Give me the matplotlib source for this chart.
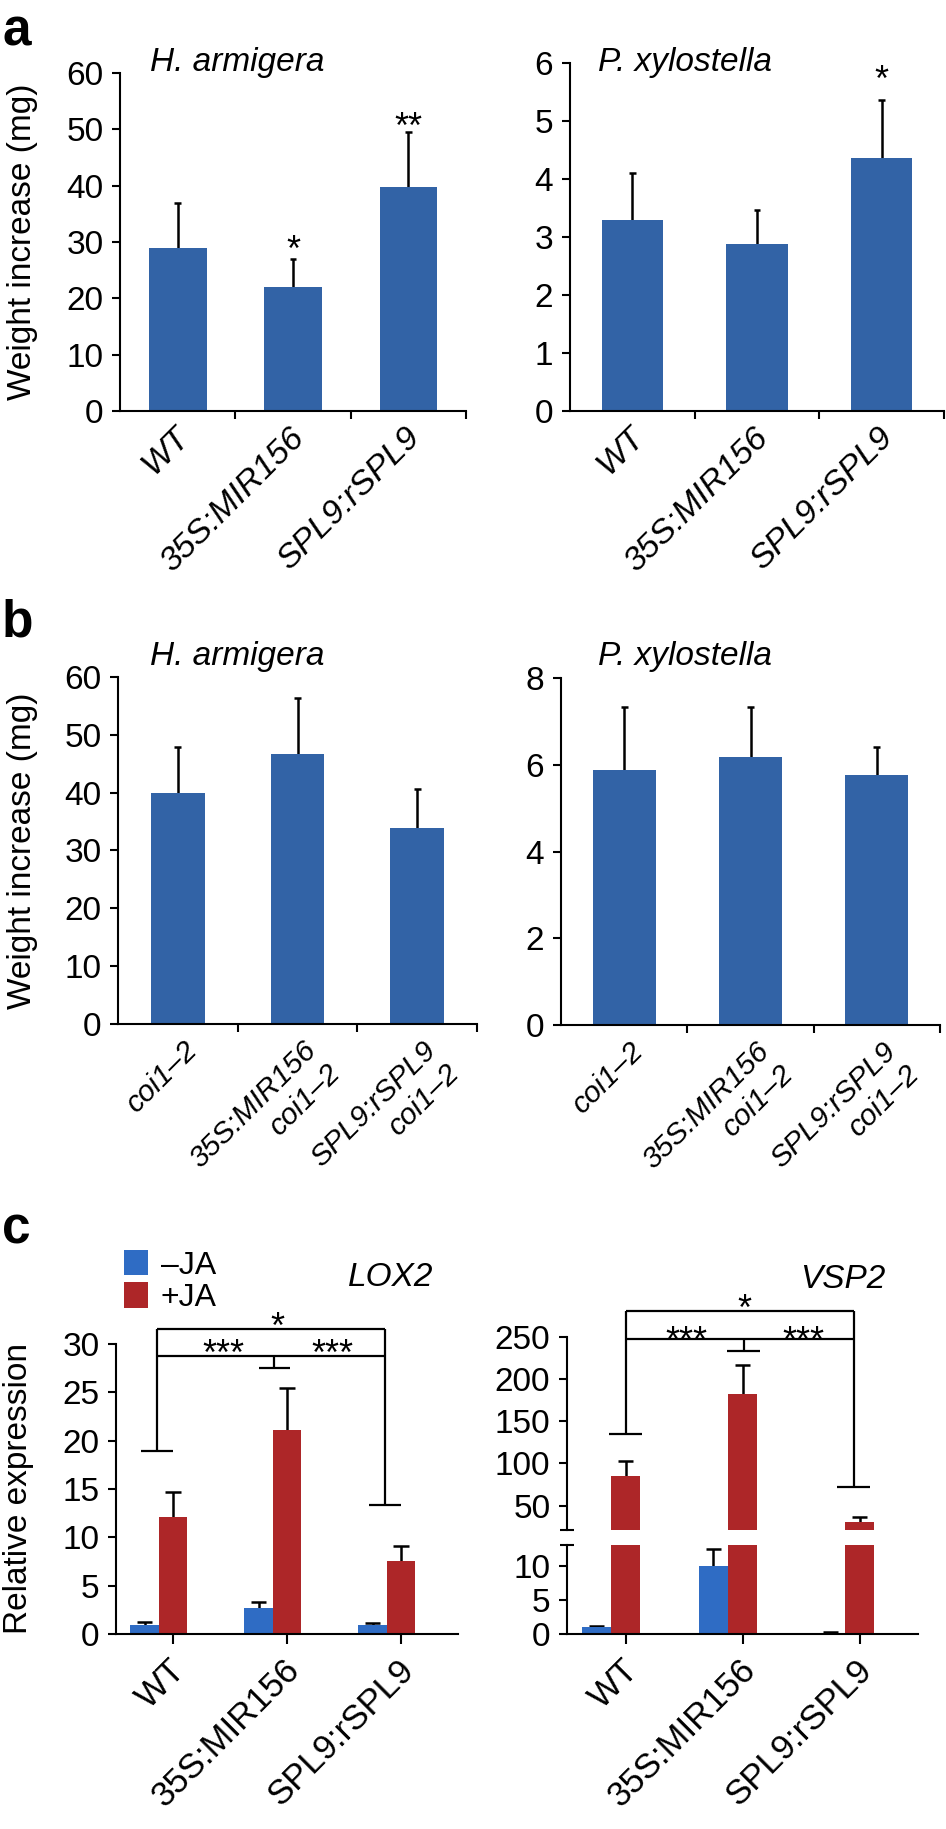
import matplotlib
matplotlib.use('Agg')
import matplotlib.pyplot as plt
import matplotlib.transforms as mtrans
import numpy as np

plt.rcParams['font.family'] = ['Liberation Sans', 'DejaVu Sans']
plt.rcParams['axes.linewidth'] = 1.5

# ---------------- data ----------------
cats = ['WT', '35S:MIR156', 'SPL9:rSPL9']
cats_coi = ['coi1–2', '35S:MIR156\ncoi1–2', 'SPL9:rSPL9\ncoi1–2']

ha_a_mean = [28.9, 22.0, 39.8]
ha_a_err = [8.1, 4.9, 9.7]
ha_a_sig = ['', '*', '**']
px_a_mean = [3.29, 2.88, 4.37]
px_a_err = [0.81, 0.59, 1.00]
px_a_sig = ['', '', '*']

ha_b_mean = [40.0, 46.7, 33.9]
ha_b_err = [7.9, 9.7, 6.7]
px_b_mean = [5.89, 6.18, 5.77]
px_b_err = [1.44, 1.15, 0.64]

lox2_minus = [0.97, 2.66, 0.93]
lox2_minus_err = [0.24, 0.62, 0.21]
lox2_plus = [12.07, 21.1, 7.52]
lox2_plus_err = [2.59, 4.35, 1.58]

vsp2_minus = [0.98, 10.0, 0.15]
vsp2_minus_err = [0.25, 2.45, 0.12]
vsp2_plus = [85.2, 182.3, 30.6]
vsp2_plus_err = [17.1, 34.8, 6.3]

BLUE_AB = '#3263a6'
BLUE_C = '#2f6cc4'
RED_C = '#ad2628'

W, H = 946, 1829
fig = plt.figure(figsize=(W / 100, H / 100), dpi=100)


def axpx(left, right, top, bottom):
    return fig.add_axes([left / W, 1 - bottom / H, (right - left) / W, (bottom - top) / H])


def fx(x):
    return x / W


def fy(y):
    return 1 - y / H


def style(ax):
    for s in ['top', 'right']:
        ax.spines[s].set_visible(False)
    ax.tick_params(axis='y', direction='out', length=6, width=1.5, labelsize=24, pad=6)
    ax.tick_params(axis='x', direction='out', length=6, width=1.5)


def err_up(ax, x, vals, errs, capw, lw=1.8, **kw):
    x = np.asarray(x, float)
    top = np.asarray(vals) + np.asarray(errs)
    ax.vlines(x, vals, top, colors='black', linewidth=lw, zorder=1, **kw)
    ax.hlines(top, x - capw, x + capw, colors='black', linewidth=lw, zorder=1, **kw)


def cat_axis(ax, labels, dx_px, pad, size, italic=True):
    n = len(labels)
    ax.set_xlim(-0.5, n - 0.5)
    ax.set_xticks(np.arange(n) + 0.5)
    ax.set_xticklabels([])
    ax.set_xticks(np.arange(n), labels, minor=True)
    ax.tick_params(axis='x', which='minor', length=0, pad=pad)
    off = mtrans.ScaledTranslation(dx_px / 100, 0, fig.dpi_scale_trans)
    for lab in ax.get_xticklabels(minor=True):
        lab.set_rotation(45)
        lab.set_ha('right')
        lab.set_va('top')
        lab.set_rotation_mode('anchor')
        lab.set_fontsize(size)
        if italic:
            lab.set_fontstyle('italic')
        lab.set_transform(lab.get_transform() + off)


def ylabel_at(ax, text, xpix, left, right):
    ax.set_ylabel(text, fontsize=24)
    ax.yaxis.set_label_coords((xpix - left) / (right - left), 0.5)


def simple_panel(box, means, errs, ylim, yticks, labels, dx, pad, size, capw,
                 sig=None, sig_y=None, bw=0.5):
    ax = axpx(*box)
    style(ax)
    x = np.arange(len(means))
    ax.bar(x, means, width=bw, color=BLUE_AB, zorder=2)
    err_up(ax, x, means, errs, capw)
    ax.set_ylim(*ylim)
    ax.set_yticks(yticks)
    cat_axis(ax, labels, dx, pad, size)
    if sig is not None:
        for xi, s, yy in zip(x, sig, sig_y):
            if s:
                ax.text(xi, yy, s, ha='center', va='baseline', fontsize=26)
    return ax


# ---------------- panel a ----------------
ax1 = simple_panel((120, 466, 73, 411), ha_a_mean, ha_a_err, (0, 60), range(0, 61, 10),
                   cats, -4, 8, 24.5, 0.03, ha_a_sig, [0, 26.6, 48.5])
ylabel_at(ax1, 'Weight increase (mg)', 38, 120, 466)
ax2 = simple_panel((570, 944, 63, 411), px_a_mean, px_a_err, (0, 6), range(0, 7),
                   cats, -4, 8, 24.5, 0.028, px_a_sig, [0, 0, 5.52], bw=0.49)

# ---------------- panel b ----------------
ax3 = simple_panel((118, 477, 677, 1024), ha_b_mean, ha_b_err, (0, 60), range(0, 61, 10),
                   cats_coi, 5, 9, 21.5, 0.03, bw=0.45)
ylabel_at(ax3, 'Weight increase (mg)', 38, 118, 477)
ax4 = simple_panel((561, 940, 678, 1025), px_b_mean, px_b_err, (0, 8), range(0, 9, 2),
                   cats_coi, 5, 9, 21.5, 0.028)

# titles
for (xp, yp, t) in [(150, 63, 'H. armigera'), (598, 63, 'P. xylostella'),
                    (150, 657, 'H. armigera'), (598, 657, 'P. xylostella')]:
    fig.text(fx(xp), fy(yp), t, fontsize=24, style='italic', ha='left', va='center')

# panel letters
for (yp, t) in [(45, 'a'), (637, 'b'), (1244, 'c')]:
    fig.text(fx(2), fy(yp), t, fontsize=37, fontweight='bold', ha='left', va='baseline')


def c_xaxis(ax, labels):
    n = len(labels)
    ax.set_xlim(-0.5, n - 0.5)
    ax.set_xticks(np.arange(n), labels)
    ax.tick_params(axis='x', length=7, width=1.5, pad=7)
    off = mtrans.ScaledTranslation(-4 / 100, 0, fig.dpi_scale_trans)
    for lab in ax.get_xticklabels():
        lab.set_rotation(45)
        lab.set_ha('right')
        lab.set_va('top')
        lab.set_rotation_mode('anchor')
        lab.set_fontsize(25)
        lab.set_transform(lab.get_transform() + off)


def bracket(ax, xl, yl, xr, yr, xm, ym, ytop, ymid, capw, lw=1.6):
    kw = dict(color='black', linewidth=lw, clip_on=False, zorder=3, solid_capstyle='butt')
    ax.plot([xl, xl], [yl, ytop], **kw)
    ax.plot([xr, xr], [yr, ytop], **kw)
    ax.plot([xl, xr], [ytop, ytop], **kw)
    ax.plot([xl, xr], [ymid, ymid], **kw)
    ax.plot([xm, xm], [ym, ymid], **kw)
    for xc, yc in [(xl, yl), (xr, yr), (xm, ym)]:
        ax.plot([xc - capw, xc + capw], [yc, yc], **kw)


# ---------------- panel c: LOX2 ----------------
x = np.arange(3)
bw = 0.25
ax5 = axpx(116, 458, 1344, 1634)
style(ax5)
b1 = ax5.bar(x - bw, lox2_minus, width=bw, color=BLUE_C, zorder=2, label='–JA')
b2 = ax5.bar(x, lox2_plus, width=bw, color=RED_C, zorder=2, label='+JA')
err_up(ax5, x - bw, lox2_minus, lox2_minus_err, 0.066)
err_up(ax5, x, lox2_plus, lox2_plus_err, 0.066)
ax5.set_ylim(0, 30)
ax5.set_yticks(range(0, 31, 5))
c_xaxis(ax5, cats)
ylabel_at(ax5, 'Relative expression', 34, 116, 458)
bracket(ax5, -0.14, 18.9, 1.86, 13.38, 0.89, 27.5, 31.55, 28.72, 0.14)
ax5.text(0.916, 30.6, '*', ha='center', va='baseline', fontsize=26, clip_on=False)
ax5.text(0.44, 27.8, '***', ha='center', va='baseline', fontsize=26, clip_on=False)
ax5.text(1.40, 27.8, '***', ha='center', va='baseline', fontsize=26, clip_on=False)
fig.text(fx(348), fy(1278), 'LOX2', fontsize=24, style='italic', ha='left', va='center')

fig.legend(handles=[b1, b2], loc='upper left', bbox_to_anchor=(fx(124), fy(1250)),
           frameon=False, fontsize=23, handlelength=0.75, handleheight=0.85,
           handletextpad=0.4, labelspacing=0.05, borderpad=0, borderaxespad=0)

# ---------------- panel c: VSP2 (broken axis) ----------------
ax6 = axpx(567, 918, 1337, 1530)
ax7 = axpx(567, 918, 1545, 1634)
for ax in (ax6, ax7):
    style(ax)
    ax.bar(x - bw, vsp2_minus, width=bw, color=BLUE_C, zorder=2)
    ax.bar(x, vsp2_plus, width=bw, color=RED_C, zorder=2)
    ax.set_xlim(-0.5, 2.5)
err_up(ax6, x, vsp2_plus, vsp2_plus_err, 0.066)
err_up(ax7, x - bw, vsp2_minus, vsp2_minus_err, 0.066)
ax6.set_ylim(21, 250)
ax6.set_yticks(range(50, 251, 50))
ax6.spines['bottom'].set_visible(False)
ax6.set_xticks([])
ax6.set_yticks([21], minor=True)
ax6.tick_params(axis='y', which='minor', direction='inout', length=10, width=1.5)
ax7.set_ylim(0, 13)
ax7.set_yticks([0, 5, 10])
ax7.set_yticks([13], minor=True)
ax7.tick_params(axis='y', which='minor', direction='inout', length=10, width=1.5)
c_xaxis(ax7, cats)
bracket(ax6, 0.0, 134.8, 1.95, 71.5, 1.01, 233, 280.5, 247.6, 0.14)
ax6.text(1.02, 270.2, '*', ha='center', va='baseline', fontsize=26, clip_on=False)
ax6.text(0.52, 232.2, '***', ha='center', va='baseline', fontsize=26, clip_on=False)
ax6.text(1.52, 232.2, '***', ha='center', va='baseline', fontsize=26, clip_on=False)
fig.text(fx(800), fy(1280), 'VSP2', fontsize=24, style='italic', ha='left', va='center')

fig.savefig('out.png', dpi=100)
